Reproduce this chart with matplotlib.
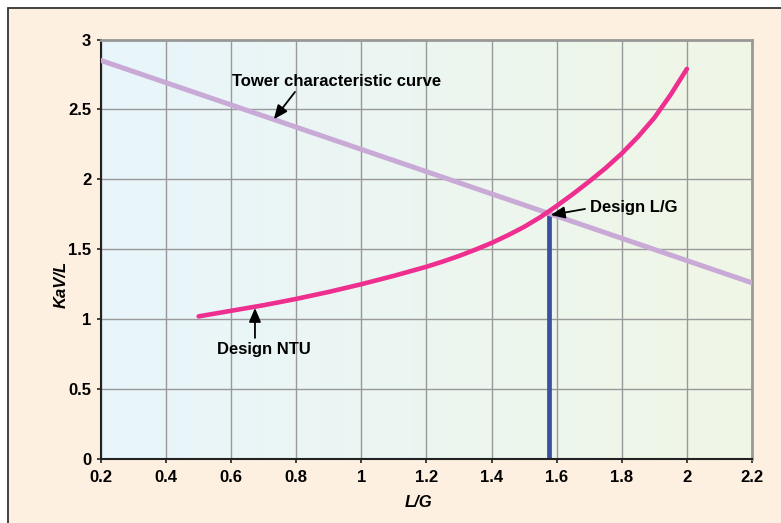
import numpy as np
import matplotlib
matplotlib.use('Agg')
import matplotlib.pyplot as plt
from matplotlib.patches import Rectangle
from matplotlib.ticker import FuncFormatter

plt.rcParams['font.family'] = ['Liberation Sans', 'DejaVu Sans']
plt.rcParams['font.weight'] = 'bold'

# データ
lg_ntu = [0.5, 0.6, 0.7, 0.8, 0.9, 1.0, 1.1, 1.2, 1.25, 1.3, 1.35, 1.4, 1.45, 1.5, 1.55,
          1.6, 1.65, 1.7, 1.75, 1.8, 1.85, 1.9, 1.95, 2.0]
kavl_ntu = [1.02, 1.06, 1.10, 1.145, 1.195, 1.25, 1.31, 1.375, 1.412, 1.452, 1.497, 1.545,
            1.60, 1.66, 1.73, 1.81, 1.895, 1.985, 2.08, 2.185, 2.305, 2.44, 2.605, 2.79]
lg_tower = [0.2, 2.2]
kavl_tower = [2.85, 1.26]
design_lg = 1.575
design_kavl = 1.755
x_ticks = [0.2, 0.4, 0.6, 0.8, 1.0, 1.2, 1.4, 1.6, 1.8, 2.0, 2.2]
y_ticks = [0, 0.5, 1, 1.5, 2, 2.5, 3]

fig = plt.figure(figsize=(7.81, 5.23), dpi=100, facecolor='white')
# 外枠
fig.patches.append(Rectangle((8 / 781, -0.1), 1.2, (523 - 8) / 523 + 0.1,
                             transform=fig.transFigure, facecolor='#fdf0e0',
                             edgecolor='#333333', linewidth=1.3, zorder=-5))

ax = fig.add_axes([101 / 781, 1 - 459 / 523, 651 / 781, 419.5 / 523])
ax.set_xlim(0.2, 2.2)
ax.set_ylim(0, 3)

# 背景グラデーション
grad = np.linspace(0, 1, 256)
c0 = np.array([232, 245, 251]) / 255
c1 = np.array([240, 247, 230]) / 255
img = c0[None, :] * (1 - grad[:, None]) + c1[None, :] * grad[:, None]
ax.imshow(img[None, :, :], extent=[0.2, 2.2, 0, 3], aspect='auto', zorder=0)

ax.grid(True, color='#999999', linewidth=1.0, zorder=1)
ax.set_axisbelow(True)

ax.plot(lg_tower, kavl_tower, color='#c9aad6', linewidth=3.6, zorder=3)
ax.plot([design_lg, design_lg], [0, design_kavl], color='#3a4fa0', linewidth=3.4,
        solid_capstyle='butt', zorder=2)
ax.plot(lg_ntu, kavl_ntu, color='#ee2f8f', linewidth=3.3, solid_capstyle='round',
        solid_joinstyle='round', zorder=4)

ax.set_xticks(x_ticks)
ax.set_yticks(y_ticks)
fmt = FuncFormatter(lambda v, p: '%g' % v)
ax.xaxis.set_major_formatter(fmt)
ax.yaxis.set_major_formatter(fmt)
ax.tick_params(axis='both', labelsize=12, length=3, width=1.2, color='#222222')
ax.tick_params(axis='x', pad=5)
ax.tick_params(axis='y', pad=4)
for t in ax.get_xticklabels() + ax.get_yticklabels():
    t.set_fontweight('bold')

for s in ['left', 'bottom']:
    ax.spines[s].set_color('#222222')
    ax.spines[s].set_linewidth(1.5)
for s in ['top', 'right']:
    ax.spines[s].set_color('#999999')
    ax.spines[s].set_linewidth(2.0)

ax.set_xlabel('L/G', fontsize=12, fontweight='bold', style='italic')
ax.set_ylabel('KaV/L', fontsize=12, fontweight='bold', style='italic')
ax.xaxis.set_label_coords(0.487, -0.086)
ax.yaxis.set_label_coords(-0.049, 0.415)

arrow = dict(arrowstyle='-|>,head_length=0.7,head_width=0.3', color='black',
             linewidth=1.3, shrinkA=0, shrinkB=0, mutation_scale=12)
ax.text(0.6015, 2.70, 'Tower characteristic curve', fontsize=12, fontweight='bold',
        ha='left', va='center', zorder=6)
ax.annotate('', xy=(0.731, 2.43), xytext=(0.796, 2.625), arrowprops=arrow, zorder=6)
ax.text(1.702, 1.795, 'Design L/G', fontsize=12, fontweight='bold',
        ha='left', va='center', zorder=6)
ax.annotate('', xy=(1.582, 1.745), xytext=(1.687, 1.788), arrowprops=arrow, zorder=6)
ax.text(0.701, 0.78, 'Design NTU', fontsize=12, fontweight='bold',
        ha='center', va='center', zorder=6)
ax.annotate('', xy=(0.673, 1.08), xytext=(0.673, 0.866), arrowprops=arrow, zorder=6)

plt.savefig('out.png', dpi=100, facecolor=fig.get_facecolor())
